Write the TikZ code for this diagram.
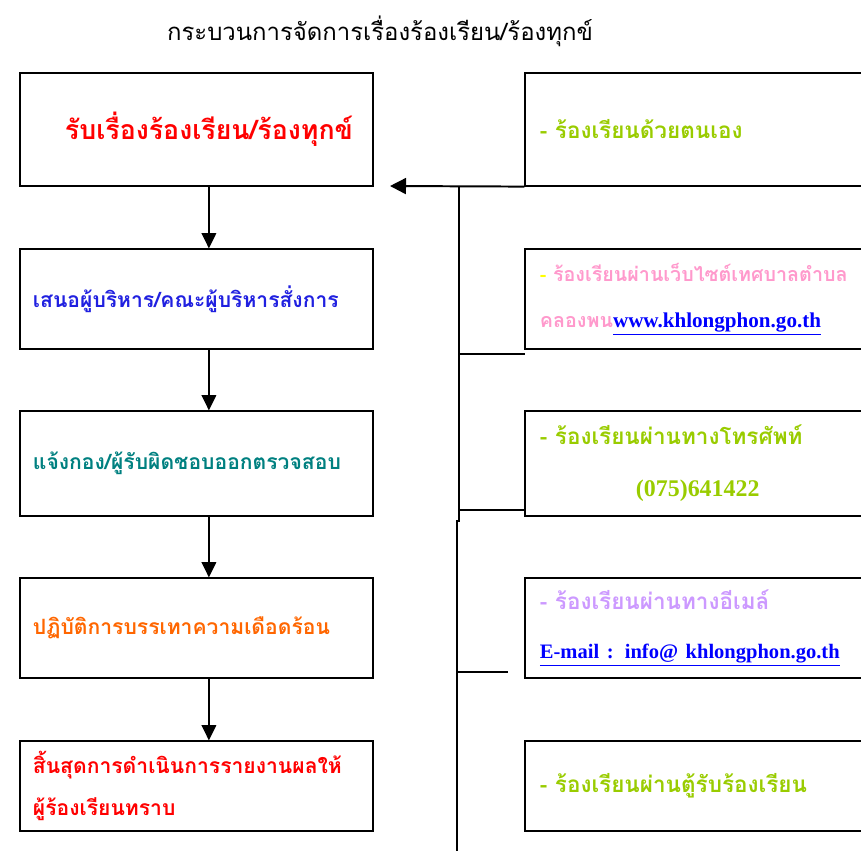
\documentclass[tikz,border=0pt]{standalone}
\usepackage{fontspec}
\newfontfamily\thaifont[Script=Thai]{Loma}
\newfontfamily\latinfont{Liberation Serif}
\usetikzlibrary{arrows.meta}
\usetikzlibrary{positioning}
\definecolor{cRed}{HTML}{FF0000}
\definecolor{cBlue}{HTML}{2020E0}
\definecolor{cTeal}{HTML}{008080}
\definecolor{cOrange}{HTML}{FF6600}
\definecolor{cGreen}{HTML}{99CC00}
\definecolor{cPink}{HTML}{FF99CC}
\definecolor{cYellow}{HTML}{FFFF00}
\definecolor{cLilac}{HTML}{CC99FF}
\definecolor{cLink}{HTML}{0000FF}
\begin{document}
\begin{tikzpicture}[x=0.025cm,y=-0.025cm,
	lbox/.style={draw, line width=0.8pt, text width=8.175cm, inner xsep=0.325cm,
	inner ysep=0pt, align=left, font=\thaifont\bfseries\fontsize{15}{30}\selectfont},
	rbox/.style={draw, line width=0.8pt, text width=7.875cm, inner xsep=0.375cm,
	inner ysep=0pt, align=left, font=\thaifont\bfseries\fontsize{16}{35}\selectfont},
	link/.style={line width=1.4pt},
	down/.style={line width=1.4pt, -{Triangle[length=0.38cm,width=0.36cm]}}]
\useasboundingbox (0,0) rectangle (861,851);
\clip (0,0) rectangle (861,851);
\node [font=\thaifont\fontsize{17}{20}\selectfont] (t) at (380,31) {กระบวนการจัดการเรื่องร้องเรียน/ร้องทุกข์};
% left column
\node [lbox, minimum height=2.825cm, text=cRed, font=\thaifont\bfseries\fontsize{19}{22}\selectfont] (1) at (196.5,129.5) {\hspace*{0.8cm}รับเรื่องร้องเรียน/ร้องทุกข์};
\node [lbox, minimum height=2.5cm, text=cBlue] (2) at (196.5,299) {เสนอผู้บริหาร/คณะผู้บริหารสั่งการ};
\node [lbox, minimum height=2.625cm, text=cTeal] (3) at (196.5,463.5) {แจ้งกอง/ผู้รับผิดชอบออกตรวจสอบ};
\node [lbox, minimum height=2.5cm, text=cOrange] (4) at (196.5,628) {ปฏิบัติการบรรเทาความเดือดร้อน};
\node [lbox, minimum height=2.25cm, text=cRed] (5) at (196.5,786) {สิ้นสุดการดำเนินการรายงานผลให้\\ผู้ร้องเรียนทราบ};
% right column
\node [rbox, minimum height=2.825cm, text=cGreen] (a) at (697.5,129.5) {-~ร้องเรียนด้วยตนเอง};
\node [rbox, minimum height=2.5cm, text=cPink, font=\thaifont\bfseries\fontsize{14}{33}\selectfont] (b) at (697.5,299) {\mbox{\textcolor{cYellow}{-}~ร้องเรียนผ่านเว็บไซต์เทศบาลตำบล}\\คลองพน{\latinfont\bfseries\fontsize{15}{33}\selectfont\textcolor{cLink}{\underline{www.khlongphon.go.th}}}};
\node [rbox, minimum height=2.625cm, text=cGreen, font=\thaifont\bfseries\fontsize{16}{37}\selectfont] (c) at (697.5,463.5) {-~ร้องเรียนผ่านทางโทรศัพท์\\\hspace*{2.4cm}{\latinfont\bfseries\fontsize{17}{37}\selectfont(075)641422}};
\node [rbox, minimum height=2.5cm, text=cLilac] (d) at (697.5,628) {-~ร้องเรียนผ่านทางอีเมล์\\{\latinfont\bfseries\fontsize{14.6}{35}\selectfont\textcolor{cLink}{\underline{E-mail : info@ khlongphon.go.th}}}};
\node [rbox, minimum height=2.25cm, text=cGreen] (e) at (697.5,786) {-~ร้องเรียนผ่านตู้รับร้องเรียน};
% arrows down
\draw [down] ([xshift=0.31cm]1.south) -- ([xshift=0.31cm]2.north);
\draw [down] ([xshift=0.31cm]2.south) -- ([xshift=0.31cm]3.north);
\draw [down] ([xshift=0.31cm]3.south) -- ([xshift=0.31cm]4.north);
\draw [down] ([xshift=0.31cm]4.south) -- ([xshift=0.31cm]5.north);
% collecting line
\coordinate (tip) at (390,186);
\coordinate (top) at (459,186);
\coordinate (jog) at (459,521);
\coordinate (bot) at (457,851);
\draw [link] (top) -- (jog) -- (457,521) -- (bot);
\draw [link, -{Triangle[length=0.4cm,width=0.4cm]}] (a.south west) -- (tip);
\draw [link] (459,354) -- (525,354);
\draw [link] (459,510) -- (525,510);
\draw [link] (457,672) -- (508,672);
\end{tikzpicture}
\end{document}
